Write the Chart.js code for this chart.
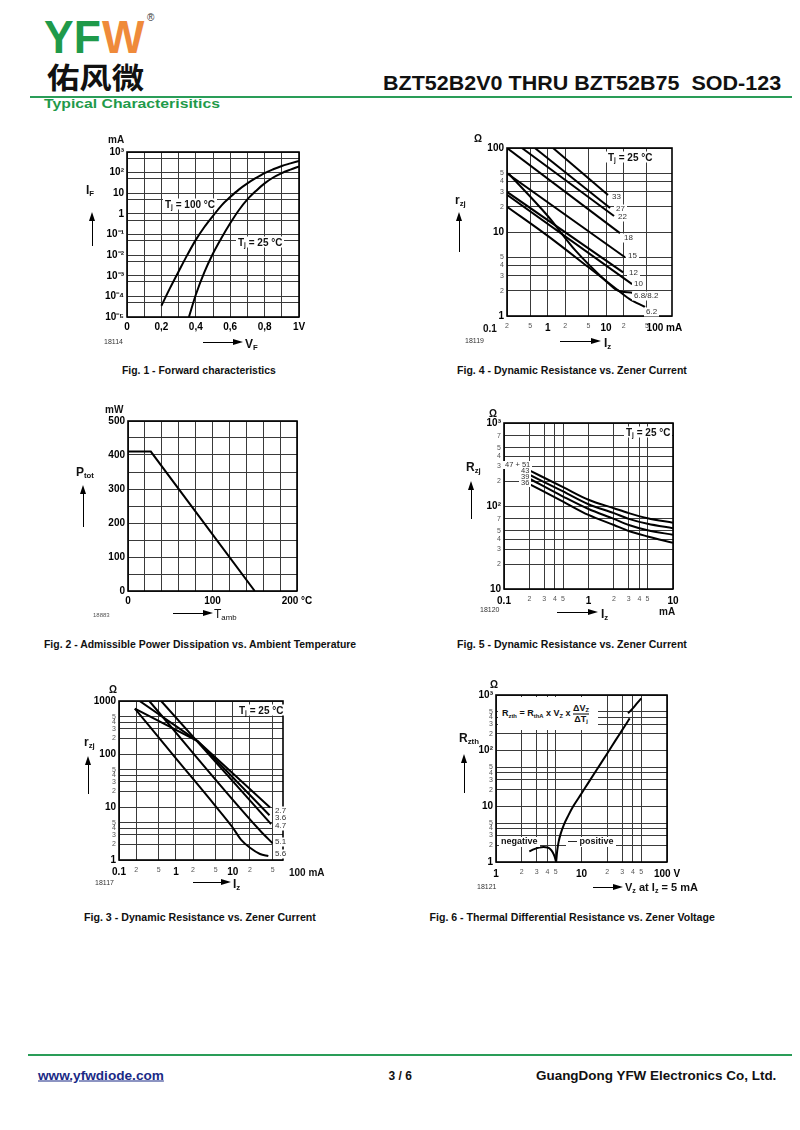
<!DOCTYPE html>
<html lang="en">
<head>
<meta charset="UTF-8">
<title>BZT52B2V0 THRU BZT52B75 - Typical Characteristics</title>
<script src="https://cdn.jsdelivr.net/npm/chart.js"></script>
<style>
  body { margin: 0; width: 800px; height: 1130px; position: relative; background: #fff; overflow: hidden;
         font-family: 'Liberation Sans', Arial, Helvetica, sans-serif; }
  canvas { position: absolute; }
  .t { position: absolute; white-space: nowrap; line-height: 1.1; color: #111; }
  .t sub { font-size: 65%; vertical-align: -0.3em; line-height: 0; }
  .frac { display: inline-block; vertical-align: middle; text-align: center; }
  .frac > span { display: block; }
  .frac .den { border-top: 1px solid #000; }
</style>
</head>
<body>
<script>
// ---------------- data ----------------
// Fig. 1 - forward characteristics (V, mA)
const tj100Vf = [0.20, 0.25, 0.30, 0.35, 0.40, 0.45, 0.50, 0.55, 0.60, 0.65, 0.70, 0.75, 0.80, 0.85, 0.90, 0.95, 1.00];
const tj100If = [3.5e-5, 2.5e-4, 1.6e-3, 1.0e-2, 5.5e-2, 0.23, 0.8, 2.6, 6.5, 15, 30, 55, 95, 145, 210, 280, 370];
const tj25Vf = [0.36, 0.40, 0.45, 0.50, 0.55, 0.60, 0.65, 0.70, 0.75, 0.80, 0.85, 0.90, 0.95, 1.00];
const tj25If = [1e-5, 1.2e-4, 1.5e-3, 1.2e-2, 7e-2, 0.35, 1.5, 5, 13, 30, 58, 95, 140, 200];
const fig1XTicks = [0, 0.1, 0.2, 0.3, 0.4, 0.5, 0.6, 0.7, 0.8, 0.9, 1];
const fig1XLabels = ['0', '', '0,2', '', '0,4', '', '0,6', '', '0,8', '', '1V'];
const fig1YTicks = [1e-5, 5e-5, 1e-4, 5e-4, 1e-3, 5e-3, 1e-2, 5e-2, 0.1, 0.5, 1, 5, 10, 50, 100, 500, 1000];
const fig1YLabels = ['10⁻⁵', '', '10⁻⁴', '', '10⁻³', '', '10⁻²', '', '10⁻¹', '', '1', '', '10', '', '10²', '', '10³'];

// Fig. 2 - power derating (°C, mW)
const tambC = [0, 27, 150];
const ptotMW = [410, 410, 0];
const fig2XTicks = [0, 20, 40, 60, 80, 100, 120, 140, 160, 180, 200];
const fig2XLabels = ['0', '', '', '', '', '100', '', '', '', '', '200 °C'];
const fig2YTicks = [0, 50, 100, 150, 200, 250, 300, 350, 400, 450, 500];
const fig2YLabels = ['0', '', '100', '', '200', '', '300', '', '400', '', '500'];

// Fig. 3 - dynamic resistance, low voltage types (mA, Ω)
const f3Iz27 = [0.19, 2.4, 45];
const f3Rz27 = [718, 175, 9.8];
const f3Iz36 = [0.23, 2.4, 44];
const f3Rz36 = [1000, 175, 7.0];
const f3Iz47 = [0.55, 47];
const f3Rz47 = [1000, 4.76];
const f3Iz51 = [0.34, 30, 50];
const f3Rz51 = [1000, 3.6, 2.06];
const f3Iz56 = [0.19, 1, 5, 9.7, 14, 20, 30, 42];
const f3Rz56 = [718, 83, 10.3, 4.24, 2.4, 1.7, 1.3, 1.19];
const fig3XTicks = [0.1, 0.2, 0.5, 1, 2, 5, 10, 20, 50];
const fig3XLabels = ['0.1', '2', '5', '1', '2', '5', '10', '2', '5'];
const fig3YTicks = [1, 2, 3, 4, 5, 10, 20, 30, 40, 50, 100, 200, 300, 400, 500, 1000];
const fig3YLabels = ['1', '2', '3', '4', '5', '10', '2', '3', '4', '5', '100', '2', '3', '4', '5', '1000'];

// Fig. 4 - dynamic resistance, 6.2 V .. 33 V (mA, Ω)
const f4Iz33 = [1.23, 10.8];   const f4Rz33 = [100, 27.6];
const f4Iz27 = [0.6, 11.7];    const f4Rz27 = [100, 19.3];
const f4Iz22 = [0.36, 13.7];   const f4Rz22 = [100, 15.5];
const f4Iz18 = [0.2, 17.3];    const f4Rz18 = [100, 9.7];
const f4Iz15 = [0.2, 21.1];    const f4Rz15 = [50, 5.0];
const f4Iz12 = [0.2, 19.6];    const f4Rz12 = [30, 3.3];
const f4Iz10 = [0.2, 27.9];    const f4Rz10 = [27.7, 2.4];
const f4Iz68 = [0.21, 1, 3, 10, 15, 29.2];
const f4Rz68 = [50, 15.5, 6, 2.6, 2.05, 1.88];
const f4Iz62 = [0.2, 1, 5, 15, 25, 46.6];
const f4Rz62 = [20, 9, 3.8, 2.1, 1.6, 1.28];
const fig4XTicks = [0.2, 0.5, 1, 2, 5, 10, 20, 50, 100];
const fig4XLabels = ['2', '5', '1', '2', '5', '10', '2', '5', '100 mA'];
const fig4YTicks = [1, 2, 3, 4, 5, 10, 20, 30, 40, 50, 100];
const fig4YLabels = ['1', '2', '3', '4', '5', '10', '2', '3', '4', '5', '100'];

// Fig. 5 - dynamic resistance, 36 V .. 51 V (mA, Ω)
const f5Iz = [0.2, 0.5, 1, 2, 3, 5, 10];
const f5Rz51 = [268, 169, 119, 94, 82, 71, 63];
const f5Rz43 = [238, 150, 105, 82, 70, 61, 54];
const f5Rz39 = [213, 130, 92, 70, 59, 51, 45];
const f5Rz36 = [184, 113, 78, 59, 50, 43, 36];
const fig5XTicks = [0.1, 0.2, 0.3, 0.4, 0.5, 1, 2, 3, 4, 5, 10];
const fig5XLabels = ['0.1', '2', '3', '4', '5', '1', '2', '3', '4', '5', '10'];
const fig5YTicks = [10, 20, 30, 40, 50, 70, 100, 200, 300, 400, 500, 700, 1000];
const fig5YLabels = ['10', '2', '3', '4', '5', '7', '10²', '2', '3', '4', '5', '7', '10³'];

// Fig. 6 - thermal differential resistance (V, Ω)
const f6NegVz = [2.45, 2.8, 3.2, 3.6, 4.0, 4.3, 4.6, 4.85, 5.05];
const f6NegR = [1.55, 1.7, 1.82, 1.86, 1.82, 1.72, 1.5, 1.25, 1.0];
const f6PosVz = [5.05, 5.2, 5.4, 5.7, 6.2, 7, 8, 10, 12, 15, 20, 25, 30, 34, 36.6];
const f6PosR = [1.0, 1.6, 2.3, 3.2, 4.6, 6.8, 10, 17, 26.4, 45, 89, 153, 236, 318, 380];
const f6TopVz = [35, 40, 45, 50];
const f6TopR = [470, 580, 720, 870];
const fig6XTicks = [1, 2, 3, 4, 5, 10, 20, 30, 40, 50, 100];
const fig6XLabels = ['1', '2', '3', '4', '5', '10', '2', '3', '4', '5', '100 V'];
const fig6YTicks = [1, 2, 3, 4, 5, 10, 20, 30, 40, 50, 100, 200, 300, 400, 500, 1000];
const fig6YLabels = ['1', '2', '3', '4', '5', '10', '2', '3', '4', '5', '10²', '2', '3', '4', '5', '10³'];

// ---------------- helpers ----------------
Chart.defaults.font.family = "'Liberation Sans', Arial, Helvetica, sans-serif";
Chart.defaults.color = '#000';

const PL = 40, PT = 10, PR = 30, PB = 22;
const isMinor = s => /^[2-9]$/.test(s);

const frameBox = {
  id: 'frameBox',
  afterDraw(ch) {
    const a = ch.chartArea, g = ch.ctx;
    g.save();
    g.strokeStyle = '#000';
    g.lineWidth = 1.6;
    g.strokeRect(a.left, a.top, a.right - a.left, a.bottom - a.top);
    g.restore();
  }
};

function axis(c, dir) {
  return {
    type: c.log ? 'logarithmic' : 'linear',
    min: c.min, max: c.max,
    afterBuildTicks: s => { s.ticks = c.ticks.map(v => ({ value: v })); },
    afterFit: s => { if (dir === 'x') s.height = PB; else s.width = PL; },
    grid: {
      color: ctx => (ctx.tick && c.noGrid && c.noGrid.includes(ctx.tick.value)) ? 'rgba(0,0,0,0)' : '#3a3a3a',
      lineWidth: 1,
      drawTicks: false
    },
    border: { display: false },
    ticks: {
      autoSkip: false, maxRotation: 0, minRotation: 0,
      padding: dir === 'x' ? (c.log ? 6 : 4) : 3,
      callback: (v, i) => c.labels[i],
      font: ctx => (c.log && isMinor(c.labels[ctx.index])) ? { size: 7 } : { size: 10, weight: 'bold' },
      color: ctx => (c.log && isMinor(c.labels[ctx.index])) ? '#555' : '#000'
    }
  };
}

function plot(frame, xCfg, yCfg, series) {
  const cv = document.createElement('canvas');
  const W = frame.r - frame.l + PL + PR, H = frame.b - frame.t + PT + PB;
  cv.width = W; cv.height = H;
  cv.style.left = (frame.l - PL) + 'px';
  cv.style.top = (frame.t - PT) + 'px';
  document.body.appendChild(cv);
  return new Chart(cv, {
    type: 'line',
    data: {
      datasets: series.map(s => ({
        data: s.x.map((v, i) => ({ x: v, y: s.y[i] })),
        borderColor: '#000',
        borderWidth: 2,
        pointRadius: 0,
        fill: false,
        cubicInterpolationMode: s.smooth ? 'monotone' : 'default',
        tension: 0
      }))
    },
    options: {
      responsive: false,
      animation: false,
      events: [],
      layout: { padding: { top: PT, right: PR, left: 0, bottom: 0 } },
      plugins: { legend: { display: false }, tooltip: { enabled: false } },
      scales: { x: axis(xCfg, 'x'), y: axis(yCfg, 'y') }
    },
    plugins: [frameBox]
  });
}

function txt(html, x, y, o = {}) {
  const d = document.createElement('div');
  d.className = 't';
  d.innerHTML = html;
  d.style.fontSize = (o.size || 10) + 'px';
  if (o.bold) d.style.fontWeight = 'bold';
  if (o.color) d.style.color = o.color;
  if (o.family) d.style.fontFamily = o.family;
  if (o.under) d.style.textDecoration = 'underline';
  if (o.bg) { d.style.background = '#fff'; d.style.padding = '0 2px'; }
  d.style.left = x + 'px';
  d.style.top = y + 'px';
  document.body.appendChild(d);
  const w = d.offsetWidth, h = d.offsetHeight;
  const sx = o.w ? o.w / w : 1;
  const ax = o.align === 'r' ? -w * sx : o.align === 'c' ? -w * sx / 2 : 0;
  d.style.transformOrigin = '0 0';
  d.style.transform = `translate(${ax}px, ${-h / 2}px) scaleX(${sx})`;
  return d;
}

function box(x, y, w, h, bg) {
  const d = document.createElement('div');
  Object.assign(d.style, { position: 'absolute', left: x + 'px', top: y + 'px', width: w + 'px', height: h + 'px', background: bg });
  document.body.appendChild(d);
  return d;
}

function arrowUp(x, yTip, yEnd) {
  box(x, yTip + 6, 1, yEnd - yTip - 6, '#000');
  const h = box(x - 3, yTip, 0, 0, 'transparent');
  Object.assign(h.style, { borderLeft: '3.5px solid transparent', borderRight: '3.5px solid transparent', borderBottom: '9px solid #000' });
}

function arrowRight(xStart, xTip, y) {
  box(xStart, y, xTip - xStart - 6, 1, '#000');
  const h = box(xTip - 10, y - 3, 0, 0, 'transparent');
  Object.assign(h.style, { borderTop: '3.5px solid transparent', borderBottom: '3.5px solid transparent', borderLeft: '10px solid #000' });
}

// ---------------- charts ----------------
// Fig. 1
plot({ l: 127, t: 152, r: 299, b: 317 },
  { min: 0, max: 1, ticks: fig1XTicks, labels: fig1XLabels },
  { log: true, min: 1e-5, max: 1000, ticks: fig1YTicks, labels: fig1YLabels },
  [{ x: tj100Vf, y: tj100If, smooth: true }, { x: tj25Vf, y: tj25If, smooth: true }]);

// Fig. 2
plot({ l: 128, t: 421, r: 297, b: 591 },
  { min: 0, max: 200, ticks: fig2XTicks, labels: fig2XLabels },
  { min: 0, max: 500, ticks: fig2YTicks, labels: fig2YLabels },
  [{ x: tambC, y: ptotMW }]);

// Fig. 3
plot({ l: 119, t: 701, r: 283, b: 860 },
  { log: true, min: 0.1, max: 76, ticks: fig3XTicks, labels: fig3XLabels },
  { log: true, min: 1, max: 1000, ticks: fig3YTicks, labels: fig3YLabels },
  [{ x: f3Iz27, y: f3Rz27 }, { x: f3Iz36, y: f3Rz36 }, { x: f3Iz47, y: f3Rz47 },
   { x: f3Iz51, y: f3Rz51, smooth: true }, { x: f3Iz56, y: f3Rz56, smooth: true }]);

// Fig. 4
plot({ l: 507, t: 148, r: 672, b: 316 },
  { log: true, min: 0.2, max: 135, ticks: fig4XTicks, labels: fig4XLabels, noGrid: [100] },
  { log: true, min: 1, max: 100, ticks: fig4YTicks, labels: fig4YLabels },
  [{ x: f4Iz33, y: f4Rz33 }, { x: f4Iz27, y: f4Rz27 }, { x: f4Iz22, y: f4Rz22 }, { x: f4Iz18, y: f4Rz18 },
   { x: f4Iz15, y: f4Rz15 }, { x: f4Iz12, y: f4Rz12 }, { x: f4Iz10, y: f4Rz10 },
   { x: f4Iz68, y: f4Rz68, smooth: true }, { x: f4Iz62, y: f4Rz62, smooth: true }]);

// Fig. 5
plot({ l: 504, t: 423, r: 673, b: 589 },
  { log: true, min: 0.1, max: 10, ticks: fig5XTicks, labels: fig5XLabels },
  { log: true, min: 10, max: 1000, ticks: fig5YTicks, labels: fig5YLabels },
  [{ x: f5Iz, y: f5Rz51, smooth: true }, { x: f5Iz, y: f5Rz43, smooth: true },
   { x: f5Iz, y: f5Rz39, smooth: true }, { x: f5Iz, y: f5Rz36, smooth: true }]);

// Fig. 6
plot({ l: 496, t: 695, r: 667, b: 862 },
  { log: true, min: 1, max: 100, ticks: fig6XTicks, labels: fig6XLabels },
  { log: true, min: 1, max: 1000, ticks: fig6YTicks, labels: fig6YLabels },
  [{ x: f6NegVz, y: f6NegR, smooth: true }, { x: f6PosVz, y: f6PosR, smooth: true },
   { x: f6TopVz, y: f6TopR, smooth: true }]);

// ---------------- page text ----------------
const green = '#1f9a4a';
txt('YF', 44, 37, { size: 46, bold: true, color: green, w: 57 });
txt('W', 102, 37, { size: 46, bold: true, color: '#ef8a3a', w: 42 });
txt('®', 147, 17, { size: 10, color: '#333' });
txt('佑风微', 47, 77, { size: 29, bold: true, color: '#111', family: "'Noto Sans CJK SC', sans-serif", w: 97 });
txt('BZT52B2V0 THRU BZT52B75&nbsp; SOD-123', 781, 83, { size: 20, bold: true, align: 'r', w: 398 });
box(30, 96, 762, 2, '#2a9d58');
txt('Typical Characterisitics', 44, 104, { size: 13, bold: true, color: green, w: 176 });

box(28, 1054, 764, 2, '#2a9d58');
txt('www.yfwdiode.com', 38, 1076, { size: 12, bold: true, color: '#1b2a86', under: true, w: 126 });
txt('3 / 6', 400, 1076, { size: 12, bold: true, align: 'c', w: 23 });
txt('GuangDong YFW Electronics Co, Ltd.', 776, 1076, { size: 13, bold: true, align: 'r', w: 240 });

// captions
txt('Fig. 1 - Forward characteristics', 199, 370, { size: 10, bold: true, align: 'c', w: 154 });
txt('Fig. 4 - Dynamic Resistance vs. Zener Current', 572, 370, { size: 10, bold: true, align: 'c', w: 230 });
txt('Fig. 2 - Admissible Power Dissipation vs. Ambient Temperature', 200, 644, { size: 10, bold: true, align: 'c', w: 312 });
txt('Fig. 5 - Dynamic Resistance vs. Zener Current', 572, 644, { size: 10, bold: true, align: 'c', w: 230 });
txt('Fig. 3 - Dynamic Resistance vs. Zener Current', 200, 917, { size: 10, bold: true, align: 'c', w: 232 });
txt('Fig. 6 - Thermal Differential Resistance vs. Zener Voltage', 572, 917, { size: 10, bold: true, align: 'c', w: 285 });

// Fig. 1 annotations
txt('mA', 116, 139, { size: 10, bold: true, align: 'c' });
txt('I<sub>F</sub>', 86, 190, { size: 12, bold: true });
arrowUp(92, 212, 246);
txt('18114', 104, 342, { size: 7, color: '#333' });
arrowRight(203, 243, 342);
txt('V<sub>F</sub>', 245, 344, { size: 12, bold: true });
txt('T<sub>j</sub> = 100 °C', 163, 204, { size: 10, bold: true, bg: true });
txt('T<sub>j</sub> = 25 °C', 236, 242, { size: 10, bold: true, bg: true });

// Fig. 2 annotations
txt('mW', 114, 409, { size: 10, bold: true, align: 'c' });
txt('P<sub>tot</sub>', 76, 472, { size: 12, bold: true });
arrowUp(83, 485, 527);
txt('18883', 93, 615, { size: 6, color: '#555' });
arrowRight(173, 213, 613);
txt('T<sub>amb</sub>', 214, 614, { size: 12 });

// Fig. 3 annotations
txt('Ω', 113, 689, { size: 10, bold: true, align: 'c' });
txt('r<sub>zj</sub>', 84, 742, { size: 12, bold: true });
arrowUp(88, 756, 794);
txt('18117', 95, 883, { size: 7, color: '#333' });
arrowRight(193, 231, 882);
txt('I<sub>z</sub>', 233, 884, { size: 12, bold: true });
txt('100 mA', 289, 872, { size: 10, bold: true });
txt('T<sub>j</sub> = 25 °C', 237, 710, { size: 10, bold: true, bg: true });
txt('2.7', 273, 811, { size: 8, color: '#333', bg: true });
txt('3.6', 273, 818, { size: 8, color: '#333', bg: true });
txt('4.7', 273, 826, { size: 8, color: '#333', bg: true });
txt('5.1', 273, 842, { size: 8, color: '#333', bg: true });
txt('5.6', 273, 854, { size: 8, color: '#333', bg: true });

// Fig. 4 annotations
txt('Ω', 478, 138, { size: 10, bold: true, align: 'c' });
txt('r<sub>zj</sub>', 455, 200, { size: 12, bold: true });
arrowUp(459, 212, 252);
txt('0.1', 490, 328, { size: 10, bold: true, align: 'c' });
txt('18119', 465, 341, { size: 7, color: '#333' });
arrowRight(560, 601, 341);
txt('I<sub>z</sub>', 604, 343, { size: 12, bold: true });
txt('T<sub>j</sub> = 25 °C', 606, 157, { size: 10, bold: true, bg: true });
txt('33', 610, 197, { size: 8, color: '#333', bg: true });
txt('27', 614, 209, { size: 8, color: '#333', bg: true });
txt('22', 616, 217, { size: 8, color: '#333', bg: true });
txt('18', 622, 238, { size: 8, color: '#333', bg: true });
txt('15', 626, 256, { size: 8, color: '#333', bg: true });
txt('12', 627, 273, { size: 8, color: '#333', bg: true });
txt('10', 632, 284, { size: 8, color: '#333', bg: true });
txt('6.8/8.2', 632, 296, { size: 8, color: '#333', bg: true });
txt('6.2', 644, 312, { size: 8, color: '#333', bg: true });

// Fig. 5 annotations
txt('Ω', 493, 413, { size: 10, bold: true, align: 'c' });
txt('R<sub>zj</sub>', 466, 467, { size: 12, bold: true });
arrowUp(471, 481, 519);
txt('18120', 480, 610, { size: 7, color: '#333' });
arrowRight(557, 598, 612);
txt('I<sub>z</sub>', 601, 614, { size: 12, bold: true });
txt('mA', 667, 611, { size: 10, bold: true, align: 'c' });
txt('T<sub>j</sub> = 25 °C', 624, 432, { size: 10, bold: true, bg: true });
txt('47 + 51', 532, 465, { size: 7.5, color: '#333', align: 'r', bg: true });
txt('43', 531, 471, { size: 7.5, color: '#333', align: 'r', bg: true });
txt('39', 531, 477, { size: 7.5, color: '#333', align: 'r', bg: true });
txt('36', 531, 483, { size: 7.5, color: '#333', align: 'r', bg: true });

// Fig. 6 annotations
txt('Ω', 494, 684, { size: 10, bold: true, align: 'c' });
txt('R<sub>zth</sub>', 459, 738, { size: 12, bold: true });
arrowUp(464, 754, 793);
txt('18121', 477, 887, { size: 7, color: '#333' });
arrowRight(593, 623, 887);
txt('V<sub>z</sub> at I<sub>z</sub> = 5 mA', 625, 887, { size: 11, bold: true });
box(498, 697, 100, 33, '#fff');
txt('R<sub>zth</sub> = R<sub>thA</sub> x V<sub>Z</sub> x <span class="frac"><span>ΔV<sub>Z</sub></span><span class="den">ΔT<sub>j</sub></span></span>',
  502, 714, { size: 9, bold: true });
txt('negative', 499, 842, { size: 9, bold: true, bg: true });
txt('— positive', 566, 842, { size: 9, bold: true, bg: true });
</script>
</body>
</html>
